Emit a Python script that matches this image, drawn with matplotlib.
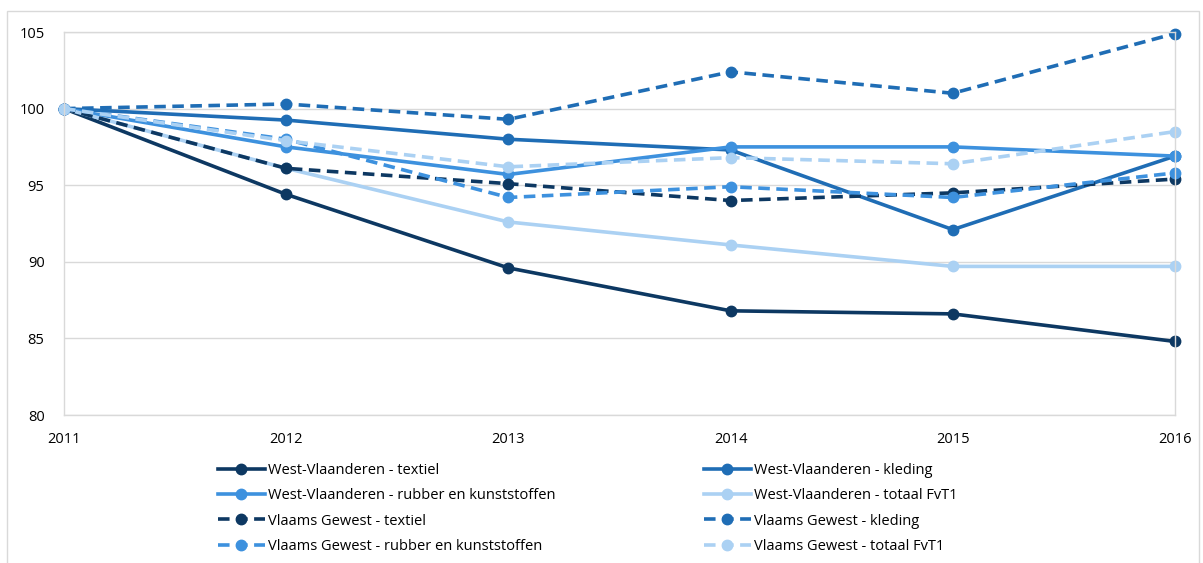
import numpy as np
import matplotlib
matplotlib.use('Agg')
import matplotlib.pyplot as plt
from matplotlib.patches import Rectangle

plt.rcParams['font.family'] = ['Open Sans', 'DejaVu Sans']

# data (index 2011 = 100)
years = [2011, 2012, 2013, 2014, 2015, 2016]
wv_textiel = [100, 94.4, 89.6, 86.8, 86.6, 84.8]
wv_kleding = [100, 99.25, 98.0, 97.3, 92.1, 96.9]
wv_rubber = [100, 97.5, 95.7, 97.5, 97.5, 96.9]
wv_totaal = [100, 96.1, 92.6, 91.1, 89.7, 89.7]
vg_textiel = [100, 96.1, 95.1, 94.0, 94.5, 95.4]
vg_kleding = [100, 100.3, 99.3, 102.4, 101.0, 104.9]
vg_rubber = [100, 98.0, 94.2, 94.9, 94.2, 95.8]
vg_totaal = [100, 97.9, 96.2, 96.8, 96.4, 98.5]

labels = ['West-Vlaanderen - textiel', 'West-Vlaanderen - kleding',
          'West-Vlaanderen - rubber en kunststoffen', 'West-Vlaanderen - totaal FvT1',
          'Vlaams Gewest - textiel', 'Vlaams Gewest - kleding',
          'Vlaams Gewest - rubber en kunststoffen', 'Vlaams Gewest - totaal FvT1']
series = [wv_textiel, wv_kleding, wv_rubber, wv_totaal,
          vg_textiel, vg_kleding, vg_rubber, vg_totaal]
colors = ['#0d3862', '#1f6db5', '#3d91de', '#abd1f3'] * 2
styles = ['-'] * 4 + ['--'] * 4

fig = plt.figure(figsize=(12.03, 5.63), dpi=100)
ax = fig.add_axes([64/1203, 1 - 415/563, (1175-64)/1203, (415-32)/563])

handles = []
for i in range(len(series)):
    ln, = ax.plot(years, series[i], linestyle=styles[i], color=colors[i],
                  linewidth=2.6, marker='o', markersize=7.5, label=labels[i],
                  clip_on=False,
                  dashes=(3.2, 1.8) if styles[i] == '--' else (None, None))
    handles.append(ln)

ax.set_xlim(2011, 2016)
ax.set_ylim(80, 105)
ax.set_yticks([80, 85, 90, 95, 100, 105])
ax.set_xticks(years)
ax.grid(axis='y', color='#d9d9d9', linewidth=1)
for s in ax.spines.values():
    s.set_color('#d9d9d9')
    s.set_linewidth(1)
ax.tick_params(length=0, labelsize=10.5, colors='black')
ax.tick_params(axis='y', pad=14)
ax.tick_params(axis='x', pad=12)
ax.set_axisbelow(True)

order = [0, 2, 4, 6, 1, 3, 5, 7]
fig.legend([handles[k] for k in order], [labels[k] for k in order],
           ncol=2, loc='upper left', bbox_to_anchor=(205/1203, 1 - 450/563),
           frameon=False, fontsize=10.5, handlelength=3.2, handletextpad=0.2,
           columnspacing=10.2, labelspacing=0.7)

fig.patches.append(Rectangle((7/1203, -0.01), 1192/1203, 1 - 11/563 + 0.01,
                             transform=fig.transFigure, fill=False,
                             edgecolor='#d9d9d9', linewidth=1))

fig.savefig('out.png', dpi=100)
